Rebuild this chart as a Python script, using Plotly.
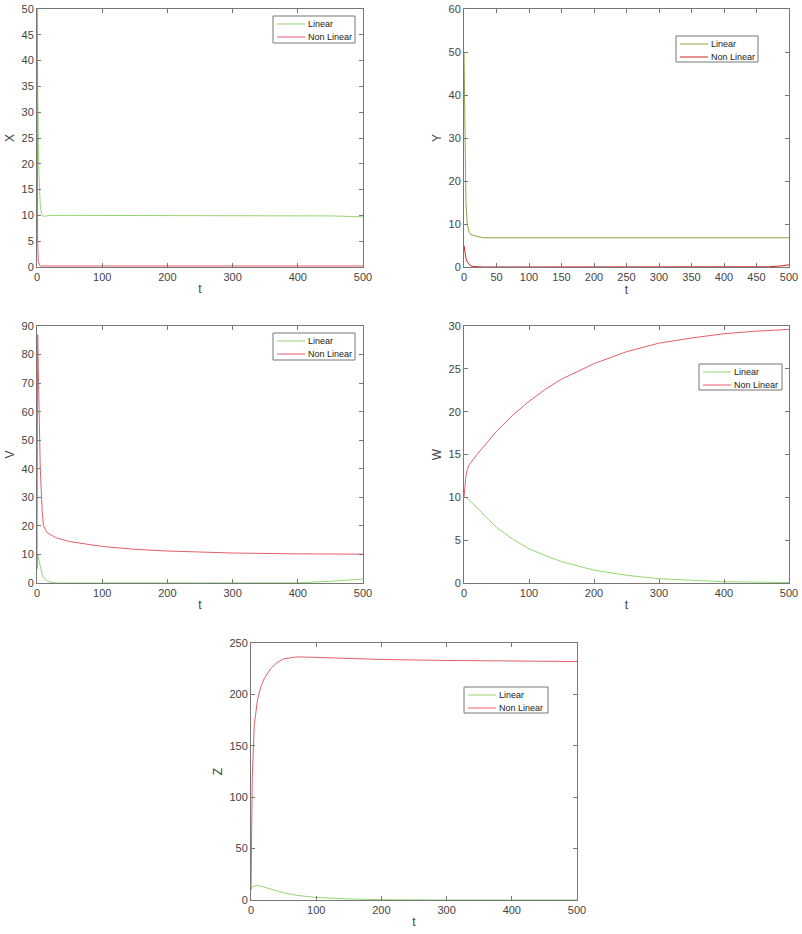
import plotly.graph_objects as go

# time samples (denser near t=0)
t_x = [0, 0.5, 1, 2, 3, 4, 5, 7, 10, 15, 20, 50, 100, 200, 300, 400, 450, 480, 500]
x_lin = [50, 40, 33, 24, 18, 14, 12, 10.3, 9.8, 9.9, 10, 10, 10, 10, 10, 10, 9.9, 9.8, 9.7]
x_non = [50, 20, 5, 1, 0.5, 0.3, 0.2, 0.2, 0.2, 0.2, 0.2, 0.2, 0.2, 0.2, 0.2, 0.2, 0.2, 0.2, 0.2]

t_y = [0, 0.5, 1, 2, 3, 5, 8, 10, 15, 20, 30, 50, 100, 200, 300, 400, 470, 490, 500]
y_lin = [50, 42, 35, 22, 15, 10, 8, 7.6, 7.3, 7.1, 6.8, 6.8, 6.8, 6.8, 6.8, 6.8, 6.8, 6.8, 6.8]
y_non = [5, 4.5, 3.8, 2.8, 2, 1.2, 0.5, 0.3, 0.1, 0.05, 0, 0, 0, 0, 0, 0, 0.05, 0.3, 0.5]

t_v = [0, 0.5, 1, 2, 3, 5, 8, 10, 15, 20, 30, 50, 100, 150, 200, 250, 300, 400, 450, 500]
v_lin = [5, 9, 10, 9, 8, 5.5, 3, 2, 0.8, 0.3, 0, 0, 0, 0, 0, 0, 0, 0.05, 0.6, 1.4]
v_non = [5, 60, 87, 75, 60, 40, 25, 20, 17.8, 17, 15.8, 14.5, 12.8, 11.8, 11.2, 10.8, 10.5, 10.2, 10.1, 10.1]

t_w = [0, 1, 3, 5, 8, 20, 35, 50, 75, 100, 125, 150, 200, 250, 300, 350, 400, 450, 500]
w_lin = [10, 10, 10, 9.9, 9.7, 8.8, 7.6, 6.5, 5.1, 4.0, 3.2, 2.5, 1.5, 0.9, 0.5, 0.3, 0.15, 0.1, 0.05]
w_non = [10, 11.3, 12.5, 13.2, 13.8, 15, 16.4, 17.7, 19.6, 21.2, 22.6, 23.8, 25.6, 27, 28, 28.6, 29.1, 29.4, 29.6]

t_z = [0, 1, 2, 5, 10, 15, 20, 30, 40, 50, 70, 100, 150, 200, 300, 400, 500]
z_lin = [10, 12, 13, 13.5, 14, 13.5, 12.5, 10.5, 9, 7, 4.5, 2.5, 1, 0.3, 0, 0, 0]
z_non = [10, 80, 120, 170, 195, 207, 215, 225, 231, 234.5, 236.5, 236, 235, 234, 233, 232.5, 232]

W, H = 802, 934


def px(a, b):
    return [a / W, b / W]


def py(top, bottom):
    return [1 - bottom / H, 1 - top / H]


panels = [
    # name, t, lin, non, xdom, ydom, ymax, ydtick, xdtick, legend box (x0,y0,x1,y1), colours
    ("X", t_x, x_lin, x_non, px(37, 363), py(9, 267), 50, 5, 100, (273, 16, 355, 43), "#94d672", "#e2606a"),
    ("Y", t_y, y_lin, y_non, px(464, 789), py(9, 267), 60, 10, 50, (676, 36, 758, 62), "#8aa848", "#d02020"),
    ("V", t_v, v_lin, v_non, px(37, 363), py(326, 583), 90, 10, 100, (273, 333, 355, 360), "#94d672", "#e2606a"),
    ("W", t_w, w_lin, w_non, px(464, 789), py(326, 583), 30, 5, 100, (699, 364, 782, 390), "#94d672", "#e2606a"),
    ("Z", t_z, z_lin, z_non, px(251, 577), py(643, 900), 250, 50, 100, (464, 687, 548, 713), "#94d672", "#e2606a"),
]

fig = go.Figure()
axis_style = dict(showline=True, mirror="ticks", linecolor="#777", linewidth=1,
                  ticks="inside", ticklen=4, tickcolor="#777", showgrid=False,
                  zeroline=False, automargin=False, ticklabeloverflow="allow",
                  tickfont=dict(size=11, color="#444"))

shapes, annots = [], []
for i, (name, t, lin, non, xd, yd, ymax, ydt, xdt, box, c1, c2) in enumerate(panels):
    n = "" if i == 0 else str(i + 1)
    fig.add_trace(go.Scatter(x=t, y=lin, mode="lines", name="Linear", line=dict(color=c1, width=1),
                             xaxis="x" + n, yaxis="y" + n, showlegend=False))
    fig.add_trace(go.Scatter(x=t, y=non, mode="lines", name="Non Linear", line=dict(color=c2, width=1),
                             xaxis="x" + n, yaxis="y" + n, showlegend=False))
    fig.layout["xaxis" + n] = dict(domain=xd, range=[0, 500], dtick=xdt, anchor="y" + n,
                                   title=dict(text="t", font=dict(size=12, color="#444"), standoff=2),
                                   **axis_style)
    fig.layout["yaxis" + n] = dict(domain=yd, range=[0, ymax], dtick=ydt, anchor="x" + n,
                                   title=dict(text=name, font=dict(size=12, color="#444"), standoff=4),
                                   **axis_style)

    # MATLAB-style legend box
    x0, y0, x1, y1 = box
    shapes.append(dict(type="rect", xref="paper", yref="paper", x0=x0 / W, x1=x1 / W,
                       y0=1 - y1 / H, y1=1 - y0 / H, line=dict(color="#777", width=1),
                       fillcolor="white", layer="above"))
    for k, (lab, col) in enumerate([("Linear", c1), ("Non Linear", c2)]):
        yy = 1 - (y0 + 8 + 13 * k) / H
        shapes.append(dict(type="line", xref="paper", yref="paper", x0=(x0 + 4) / W, x1=(x0 + 32) / W,
                           y0=yy, y1=yy, line=dict(color=col, width=1), layer="above"))
        annots.append(dict(xref="paper", yref="paper", x=(x0 + 33) / W, y=yy, text=lab,
                           showarrow=False, xanchor="left", yanchor="middle",
                           font=dict(size=9, color="#222")))

fig.update_layout(width=W, height=H, margin=dict(l=0, r=0, t=0, b=0),
                  paper_bgcolor="white", plot_bgcolor="white", showlegend=False,
                  shapes=shapes, annotations=annots,
                  font=dict(family="Liberation Sans, Arial, sans-serif"))

# drop the default 8px body margin so the figure fills the window exactly
fig.write_html("out.html", config={"displayModeBar": False},
               post_script="document.body.style.margin='0';")
